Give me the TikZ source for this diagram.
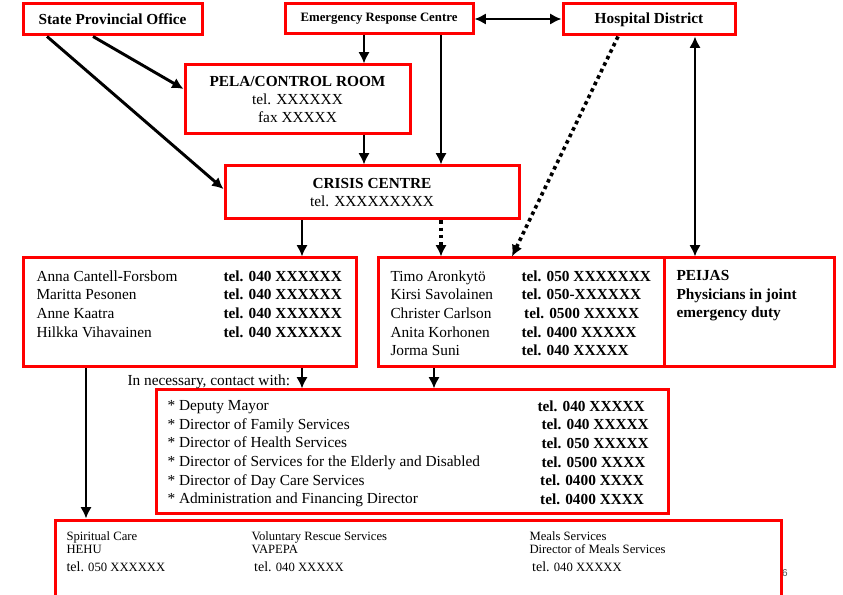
\documentclass[tikz,border=0pt]{standalone}
\usepackage{fontspec}
\setmainfont{Liberation Serif}
\setsansfont{Liberation Sans}
\usetikzlibrary{arrows.meta}

\definecolor{boxred}{RGB}{255,0,0}

\tikzset{every picture/.style={line width=0.75pt}}
\tikzset{
  redbox/.style={draw=boxred, line width=2.25pt, inner sep=0pt, align=center},
  txt/.style={font=\fontsize{11.5}{14}\selectfont, inner sep=0pt, align=left},
  txtb/.style={font=\fontsize{11.5}{14}\selectfont\bfseries, inner sep=0pt, align=left},
  small/.style={font=\fontsize{9.5}{9.75}\selectfont, inner sep=0pt, align=left},
  arrowline/.style={line width=2.2pt, -{Latex[length=8.5pt,width=8.5pt]}},
  twoway/.style={line width=2.2pt, {Latex[length=8.5pt,width=8.5pt]}-{Latex[length=8.5pt,width=8.5pt]}},
  dotline/.style={line width=2.7pt, dash pattern=on 2.7pt off 2.7pt, -{Latex[length=8.5pt,width=8.5pt]}}
}

\begin{document}
\begin{tikzpicture}[x=0.75pt,y=0.75pt,yscale=-1,xscale=1]
\path[use as bounding box] (0,0) rectangle (843,595);
\clip (0,0) rectangle (843,595);

%x positions of the vertical connectors
\coordinate (xpela) at (364,0);
\coordinate (xerc) at (441,0);
\coordinate (xteam) at (302,0);
\coordinate (xmid) at (434,0);
\coordinate (xpeijas) at (695,0);
\coordinate (xsupport) at (86,0);

%Top row
\node[redbox, minimum width=134.25pt, minimum height=23.25pt, font=\fontsize{11.5}{13.5}\selectfont\bfseries] (spo) at (112.5,19.5) {State Provincial Office};
\node[redbox, minimum width=141pt, minimum height=22.5pt, font=\fontsize{9.6}{11}\selectfont\bfseries] (erc) at (379,19) {Emergency Response Centre};
\node[redbox, minimum width=129pt, minimum height=23.25pt, font=\fontsize{11.5}{13.5}\selectfont\bfseries] (hd) at (649,19.5) {Hospital District};

%Control room and crisis centre
\node[redbox, minimum width=168.75pt, minimum height=51.75pt, font=\fontsize{11.5}{13.5}\selectfont] (pela) at (297.5,99.5) {\textbf{PELA/CONTROL ROOM}\\tel. XXXXXX\\fax XXXXX};
\node[redbox, minimum width=220.5pt, minimum height=39.75pt, font=\fontsize{11.5}{13.5}\selectfont] (crisis) at (372,192.5) {\textbf{CRISIS CENTRE}\\tel. XXXXXXXXX};

%Teams
\node[redbox, minimum width=249.75pt, minimum height=81.75pt] (team1) at (189.5,312.5) {};
\node[redbox, minimum width=214.5pt, minimum height=81.75pt] (team2) at (521,312.5) {};
\node[redbox, minimum width=127.5pt, minimum height=81.75pt] (peijas) at (749,312.5) {};

% Text Node
\node[txt, anchor=north west] (team1names) at (36,270) {Anna Cantell-Forsbom\\Maritta Pesonen\\Anne Kaatra\\Hilkka Vihavainen};
% Text Node
\node[txtb, anchor=north west] (team1tel) at (223,270) {tel. 040 XXXXXX\\tel. 040 XXXXXX\\tel. 040 XXXXXX\\tel. 040 XXXXXX};
% Text Node
\node[txt, anchor=north west] (team2names) at (390,270) {Timo Aronkytö\\Kirsi Savolainen\\Christer Carlson\\Anita Korhonen\\Jorma Suni};
% Text Node
\node[txtb, anchor=north west] (team2tel) at (521,270) {tel. 050 XXXXXXX\\tel. 050-XXXXXX\\\hspace{2pt}tel. 0500 XXXXX\\tel. 0400 XXXXX\\tel. 040 XXXXX};
% Text Node
\node[txtb, anchor=north west] (peijastext) at (676,270) {PEIJAS\\Physicians in joint\\emergency duty};

%Contacts
\node[redbox, minimum width=384pt, minimum height=92.25pt] (contact) at (412,451.5) {};
% Text Node
\node[txt, anchor=base west] (necessary) at (127,386) {In necessary, contact with:};
% Text Node
\node[txt, anchor=north west] (contactnames) at (167,400) {* Deputy Mayor\\* Director of Family Services\\* Director of Health Services\\* Director of Services for the Elderly and Disabled\\* Director of Day Care Services\\* Administration and Financing Director};
% Text Node
\node[txtb, anchor=north west] (contacttel) at (537,400) {tel. 040 XXXXX\\\hspace{3pt}tel. 040 XXXXX\\\hspace{3pt}tel. 050 XXXXX\\\hspace{3pt}tel. 0500 XXXX\\\hspace{2pt}tel. 0400 XXXX\\\hspace{2pt}tel. 0400 XXXX};

%Support services
% Text Node
\node[font=\sffamily\fontsize{7.5}{8}\selectfont, text=black!70, inner sep=0pt] (pagenum) at (785,573) {6};
\node[redbox, minimum width=544.5pt, minimum height=67.5pt] (support) at (418,565) {};
% Text Node
\node[small, anchor=north west] (spiritual) at (66,531) {Spiritual Care\\HEHU\\[4pt]{\fontsize{10.5}{10}\selectfont tel.} 050 XXXXXX};
% Text Node
\node[small, anchor=north west] (rescue) at (251,531) {Voluntary Rescue Services\\VAPEPA\\[4pt]\hspace{2pt}{\fontsize{10.5}{10}\selectfont tel.} 040 XXXXX};
% Text Node
\node[small, anchor=north west] (meals) at (529,531) {Meals Services\\Director of Meals Services\\[4pt]\hspace{2pt}{\fontsize{10.5}{10}\selectfont tel.} 040 XXXXX};

%Connectors
\draw[arrowline] ([xshift=-14.6pt]spo.south) -- ([yshift=-7.9pt]pela.west);
\draw[arrowline] ([xshift=-49.1pt]spo.south) -- ([yshift=-2.6pt]crisis.west);
\draw[arrowline] (erc.south -| xpela) -- (pela.north -| xpela);
\draw[arrowline] (pela.south -| xpela) -- (crisis.north -| xpela);
\draw[arrowline] (erc.south -| xerc) -- (crisis.north -| xerc);
\draw[twoway] (erc.east) -- (erc.east -| hd.west);
\draw[dotline] (crisis.south -| xerc) -- (team2.north -| xerc);
\draw[dotline] ([xshift=-23.25pt]hd.south) -- ([xshift=-6.75pt]team2.north);
\draw[twoway] (hd.south -| xpeijas) -- (peijas.north -| xpeijas);
\draw[arrowline] (crisis.south -| xteam) -- (team1.north -| xteam);
\draw[arrowline] (team1.south -| xteam) -- (contact.north -| xteam);
\draw[arrowline] (team2.south -| xmid) -- (contact.north -| xmid);
\draw[arrowline] (team1.south -| xsupport) -- (support.north -| xsupport);

\end{tikzpicture}
\end{document}
